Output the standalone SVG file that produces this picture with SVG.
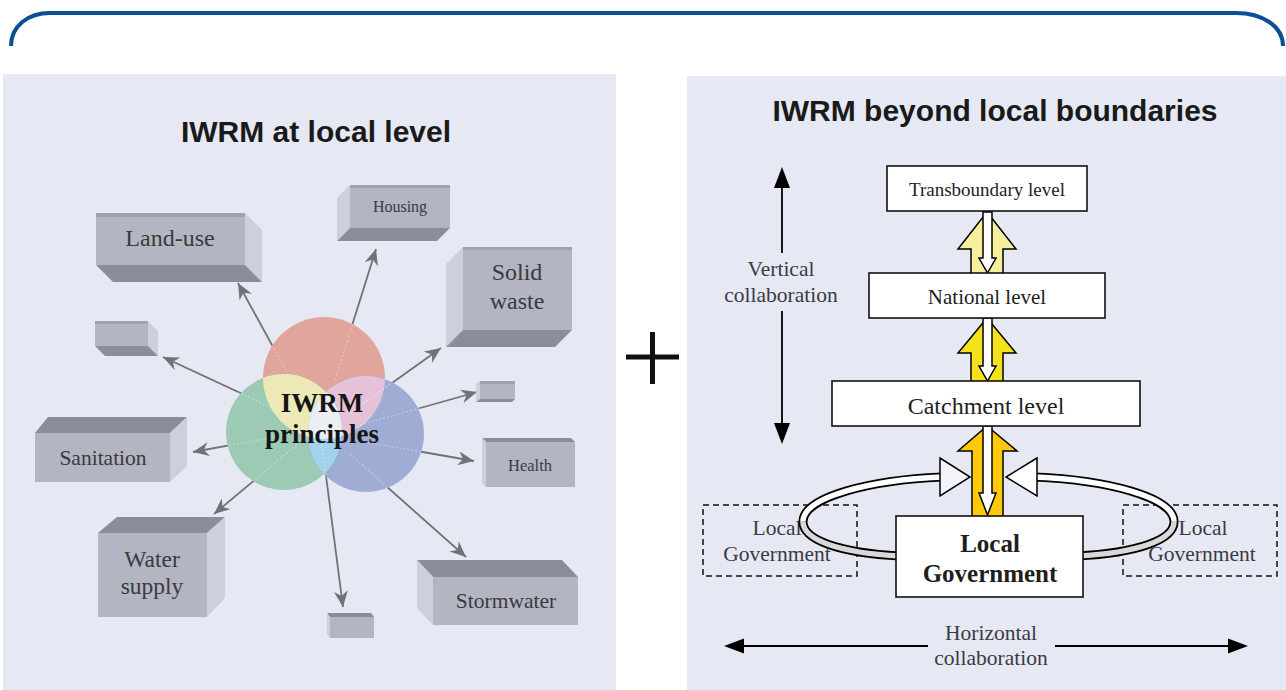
<svg xmlns="http://www.w3.org/2000/svg" width="1286" height="690" viewBox="0 0 1286 690">
<style>
.panel{fill:#e6e9f3}
.title{font-family:"Liberation Sans",Arial,sans-serif;font-weight:bold;font-size:30px;fill:#1a1a1a;text-anchor:middle}
.front{fill:#b3b5c2}
.strip{fill:#a0a3af}
.dark{fill:#8b8e9a}
.light{fill:#cdd0dc}
.btxt{font-family:"Liberation Serif","Times New Roman",serif;fill:#3a3a3e;text-anchor:middle}
.conn{stroke:#707278;stroke-width:1.8;fill:none}
.faint{stroke:#ffffff;stroke-opacity:0.35;stroke-width:1.2;stroke-dasharray:2 2;fill:none}
.lvl{fill:#ffffff;stroke:#111;stroke-width:1.6}
.ltxt{font-family:"Liberation Serif","Times New Roman",serif;fill:#1e1e1e;text-anchor:middle}
.dash{fill:none;stroke:#111;stroke-width:1.5;stroke-dasharray:6 4}
.gtxt{font-family:"Liberation Serif","Times New Roman",serif;fill:#3a3a46;text-anchor:middle;font-size:21.5px}
.blk{stroke:#000;stroke-width:1.8;fill:none}
.arw{stroke:#000;stroke-width:1.5}
</style>
<defs>
<marker id="gh" markerUnits="userSpaceOnUse" markerWidth="18" markerHeight="14" refX="16" refY="7" orient="auto">
<path d="M0,0 L16,7 L0,14 L5,7 z" fill="#707278"/>
</marker>
<clipPath id="cR"><circle cx="324" cy="378" r="61"/></clipPath>
<clipPath id="cG"><circle cx="284" cy="432" r="58"/></clipPath>
</defs>

<!-- top brace -->
<path d="M11 46 C11 26 28 13 50 13 L1236 13 C1262 13 1283 26 1283 46" fill="none" stroke="#0b4f96" stroke-width="4"/>

<rect class="panel" x="3" y="74" width="613" height="616"/>
<rect class="panel" x="687" y="76" width="599" height="614"/>

<!-- plus -->
<g id="plus" stroke="#111" stroke-width="5">
<line x1="626" y1="357" x2="679" y2="357"/>
<line x1="652.5" y1="332" x2="652.5" y2="384"/>
</g>

<text class="title" x="316" y="142">IWRM at local level</text>
<text class="title" x="995" y="121">IWRM beyond local boundaries</text>

<!-- left: connectors -->
<g id="connectors-left">
<line class="conn" x1="290" y1="378" x2="238" y2="283" marker-end="url(#gh)"/>
<line class="conn" x1="335" y1="380" x2="376" y2="249" marker-end="url(#gh)"/>
<line class="conn" x1="350" y1="413" x2="441" y2="348" marker-end="url(#gh)"/>
<line class="conn" x1="290" y1="416" x2="163" y2="357" marker-end="url(#gh)"/>
<line class="conn" x1="360" y1="425" x2="477" y2="392" marker-end="url(#gh)"/>
<line class="conn" x1="290" y1="434" x2="193" y2="452" marker-end="url(#gh)"/>
<line class="conn" x1="360" y1="441" x2="474" y2="461" marker-end="url(#gh)"/>
<line class="conn" x1="300" y1="442" x2="214" y2="514" marker-end="url(#gh)"/>
<line class="conn" x1="322" y1="445" x2="343" y2="607" marker-end="url(#gh)"/>
<line class="conn" x1="350" y1="454" x2="466" y2="557" marker-end="url(#gh)"/>
</g>

<!-- IWRM principles venn -->
<g id="principles">
<circle cx="324" cy="378" r="61" fill="#e0a59b"/>
<circle cx="284" cy="432" r="58" fill="#9dcab5"/>
<circle cx="366" cy="434" r="58" fill="#9facd4"/>
<circle cx="284" cy="432" r="58" fill="#ece9b7" clip-path="url(#cR)"/>
<circle cx="366" cy="434" r="58" fill="#e6c2d9" clip-path="url(#cR)"/>
<circle cx="366" cy="434" r="58" fill="#9fd4ec" clip-path="url(#cG)"/>
<g clip-path="url(#cR)"><circle cx="366" cy="434" r="58" fill="#e9eff4" clip-path="url(#cG)"/></g>
<g>
<line class="faint" x1="290" y1="378" x2="272" y2="345"/>
<line class="faint" x1="335" y1="380" x2="353" y2="323"/>
<line class="faint" x1="350" y1="413" x2="393" y2="382"/>
<line class="faint" x1="290" y1="416" x2="238" y2="392"/>
<line class="faint" x1="360" y1="425" x2="420" y2="408"/>
<line class="faint" x1="290" y1="434" x2="228" y2="446"/>
<line class="faint" x1="360" y1="441" x2="422" y2="452"/>
<line class="faint" x1="300" y1="442" x2="255" y2="480"/>
<line class="faint" x1="322" y1="445" x2="326" y2="478"/>
<line class="faint" x1="350" y1="454" x2="387" y2="487"/>
</g>
<text x="322" y="412" font-family="'Liberation Serif','Times New Roman',serif" font-weight="bold" font-size="27" fill="#151515" text-anchor="middle">IWRM</text>
<text x="322" y="443" font-family="'Liberation Serif','Times New Roman',serif" font-weight="bold" font-size="27" fill="#151515" text-anchor="middle">principles</text>
</g>

<!-- boxes -->
<g id="landuse">
<polygon class="light" points="245,213 262,230 262,282 245,265"/>
<polygon class="dark" points="96,265 245,265 262,282 113,282"/>
<rect class="front" x="96" y="213" width="149" height="52"/>
<rect class="strip" x="96" y="213" width="149" height="4"/>
<text class="btxt" x="170" y="246" font-size="24">Land-use</text>
</g>
<g id="housing">
<polygon class="light" points="350,185 337,198 337,241 350,228"/>
<polygon class="dark" points="350,228 450,228 437,241 337,241"/>
<rect class="front" x="350" y="185" width="100" height="43"/>
<rect class="strip" x="350" y="185" width="100" height="3"/>
<text class="btxt" x="400" y="212" font-size="16">Housing</text>
</g>
<g id="solidwaste">
<polygon class="light" points="463,247 446,264 446,347 463,330"/>
<polygon class="dark" points="463,330 572,330 555,347 446,347"/>
<rect class="front" x="463" y="247" width="109" height="83"/>
<rect class="strip" x="463" y="247" width="109" height="3"/>
<text class="btxt" x="517" y="280" font-size="24">Solid</text>
<text class="btxt" x="517" y="309" font-size="24">waste</text>
</g>
<g id="box-small-left">
<polygon class="light" points="148,321 158,331 158,356 148,346"/>
<polygon class="dark" points="95,346 148,346 158,356 105,356"/>
<rect class="front" x="95" y="321" width="53" height="25"/>
<rect class="strip" x="95" y="321" width="53" height="3"/>
</g>
<g id="sanitation">
<polygon class="dark" points="35,433 48,417 187,417 170,433"/>
<polygon class="light" points="170,433 187,417 187,466 170,482"/>
<rect class="front" x="35" y="433" width="135" height="49"/>
<text class="btxt" x="103" y="465" font-size="21.5">Sanitation</text>
</g>
<g id="watersupply">
<polygon class="dark" points="98,533 117,517 225,517 207,533"/>
<polygon class="light" points="207,533 225,517 225,598 207,617"/>
<rect class="front" x="98" y="533" width="109" height="84"/>
<text class="btxt" x="152" y="567" font-size="23.5">Water</text>
<text class="btxt" x="152" y="594" font-size="23.5">supply</text>
</g>
<g id="stormwater">
<polygon class="dark" points="433,577 417,560 562,560 578,577"/>
<polygon class="light" points="417,560 433,577 433,625 417,608"/>
<rect class="front" x="433" y="577" width="145" height="48"/>
<text class="btxt" x="506" y="608" font-size="21.5">Stormwater</text>
</g>
<g id="box-small-bottom">
<polygon class="dark" points="330,617 327,613 371,613 374,617"/>
<polygon class="light" points="327,613 330,617 330,638 327,634"/>
<rect class="front" x="330" y="617" width="44" height="21"/>
</g>
<g id="box-small-right">
<polygon class="light" points="480,381 476,384 476,402 480,399"/>
<polygon class="dark" points="480,399 515,399 512,402 476,402"/>
<rect class="front" x="480" y="381" width="35" height="18"/>
<rect class="strip" x="480" y="381" width="35" height="3"/>
</g>
<g id="health">
<polygon class="dark" points="486,442 482,438 571,438 575,442"/>
<polygon class="light" points="482,438 486,442 486,487 482,483"/>
<rect class="front" x="486" y="442" width="89" height="45"/>
<text class="btxt" x="530" y="471" font-size="16.5">Health</text>
</g>

<!-- right panel connectors -->
<g id="connectors-right">
<!-- vertical collaboration -->
<line class="blk" x1="782" y1="186" x2="782" y2="253"/>
<line class="blk" x1="782" y1="311" x2="782" y2="424"/>
<polygon points="782,167 774,188 790,188" fill="#000"/>
<polygon points="782,444 774,423 790,423" fill="#000"/>
<!-- horizontal collaboration -->
<line class="blk" x1="740" y1="646" x2="928" y2="646"/>
<line class="blk" x1="1055" y1="646" x2="1231" y2="646"/>
<polygon points="724,646 744,638.5 744,653.5" fill="#000"/>
<polygon points="1248,646 1228,638.5 1228,653.5" fill="#000"/>
<!-- yellow up arrows with white down arrows -->
<polygon class="arw" points="987,212 1016,249 1003,249 1003,274 971,274 971,249 958,249" fill="#f8ef9e"/>
<polygon class="arw" points="983,212 992,212 992,258 996,258 987.5,273 979,258 983,258" fill="#fff"/>
<polygon class="arw" points="987,318 1016,353 1003,353 1003,382 971,382 971,353 958,353" fill="#f3e21c"/>
<polygon class="arw" points="983,318 992,318 992,366 996,366 987.5,381 979,366 983,366" fill="#fff"/>
<polygon class="arw" points="987,426 1017,451 1003,451 1003,517 972,517 972,451 958,451" fill="#fdca0b"/>
<polygon class="arw" points="983,426 992,426 992,493 996,493 987.5,515 979,493 983,493" fill="#fff"/>
</g>

<!-- dashed local governments -->
<g id="lg-left">
<rect class="dash" x="703" y="505" width="154" height="71"/>
<text class="gtxt" x="777" y="535">Local</text>
<text class="gtxt" x="777" y="561">Government</text>
</g>
<g id="lg-right">
<rect class="dash" x="1123" y="505" width="154" height="71"/>
<text class="gtxt" x="1203" y="535">Local</text>
<text class="gtxt" x="1202" y="561">Government</text>
</g>

<!-- curved horizontal arrows -->
<g id="loops">
<path d="M900 556 C840 553 802 540 803 521 C804 497 870 480 942 477" fill="none" stroke="#000" stroke-width="9"/>
<path d="M803 521 C804 497 870 480 942 477" fill="none" stroke="#fff" stroke-width="5.5"/>
<path d="M900 556 C840 553 802 540 803 521" fill="none" stroke="#d8d8dc" stroke-width="5.5"/>
<polygon class="arw" points="940,458 970,477 940,496" fill="#f3f4f9"/>
<path d="M1077 556 C1137 553 1175 540 1174 521 C1173 497 1107 480 1035 477" fill="none" stroke="#000" stroke-width="9"/>
<path d="M1174 521 C1173 497 1107 480 1035 477" fill="none" stroke="#fff" stroke-width="5.5"/>
<path d="M1077 556 C1137 553 1175 540 1174 521" fill="none" stroke="#d8d8dc" stroke-width="5.5"/>
<polygon class="arw" points="1037,458 1006,477 1037,496" fill="#ffffff"/>
</g>

<!-- level boxes -->
<g id="transboundary">
<rect class="lvl" x="887" y="166" width="200" height="45"/>
<text class="ltxt" x="987" y="196" font-size="19">Transboundary level</text>
</g>
<g id="national">
<rect class="lvl" x="869" y="273" width="236" height="45"/>
<text class="ltxt" x="987" y="304" font-size="21">National level</text>
</g>
<g id="catchment">
<rect class="lvl" x="832" y="381" width="308" height="45"/>
<text class="ltxt" x="986" y="414" font-size="24">Catchment level</text>
</g>
<g id="local-government">
<rect class="lvl" x="896" y="516" width="187" height="81"/>
<text class="ltxt" x="990" y="552" font-size="25" font-weight="bold">Local</text>
<text class="ltxt" x="990" y="582" font-size="25" font-weight="bold">Government</text>
</g>

<g id="labels">
<text class="gtxt" x="781" y="276">Vertical</text>
<text class="gtxt" x="781" y="302">collaboration</text>
<text class="gtxt" x="991" y="640">Horizontal</text>
<text class="gtxt" x="991" y="665">collaboration</text>
</g>
</svg>
